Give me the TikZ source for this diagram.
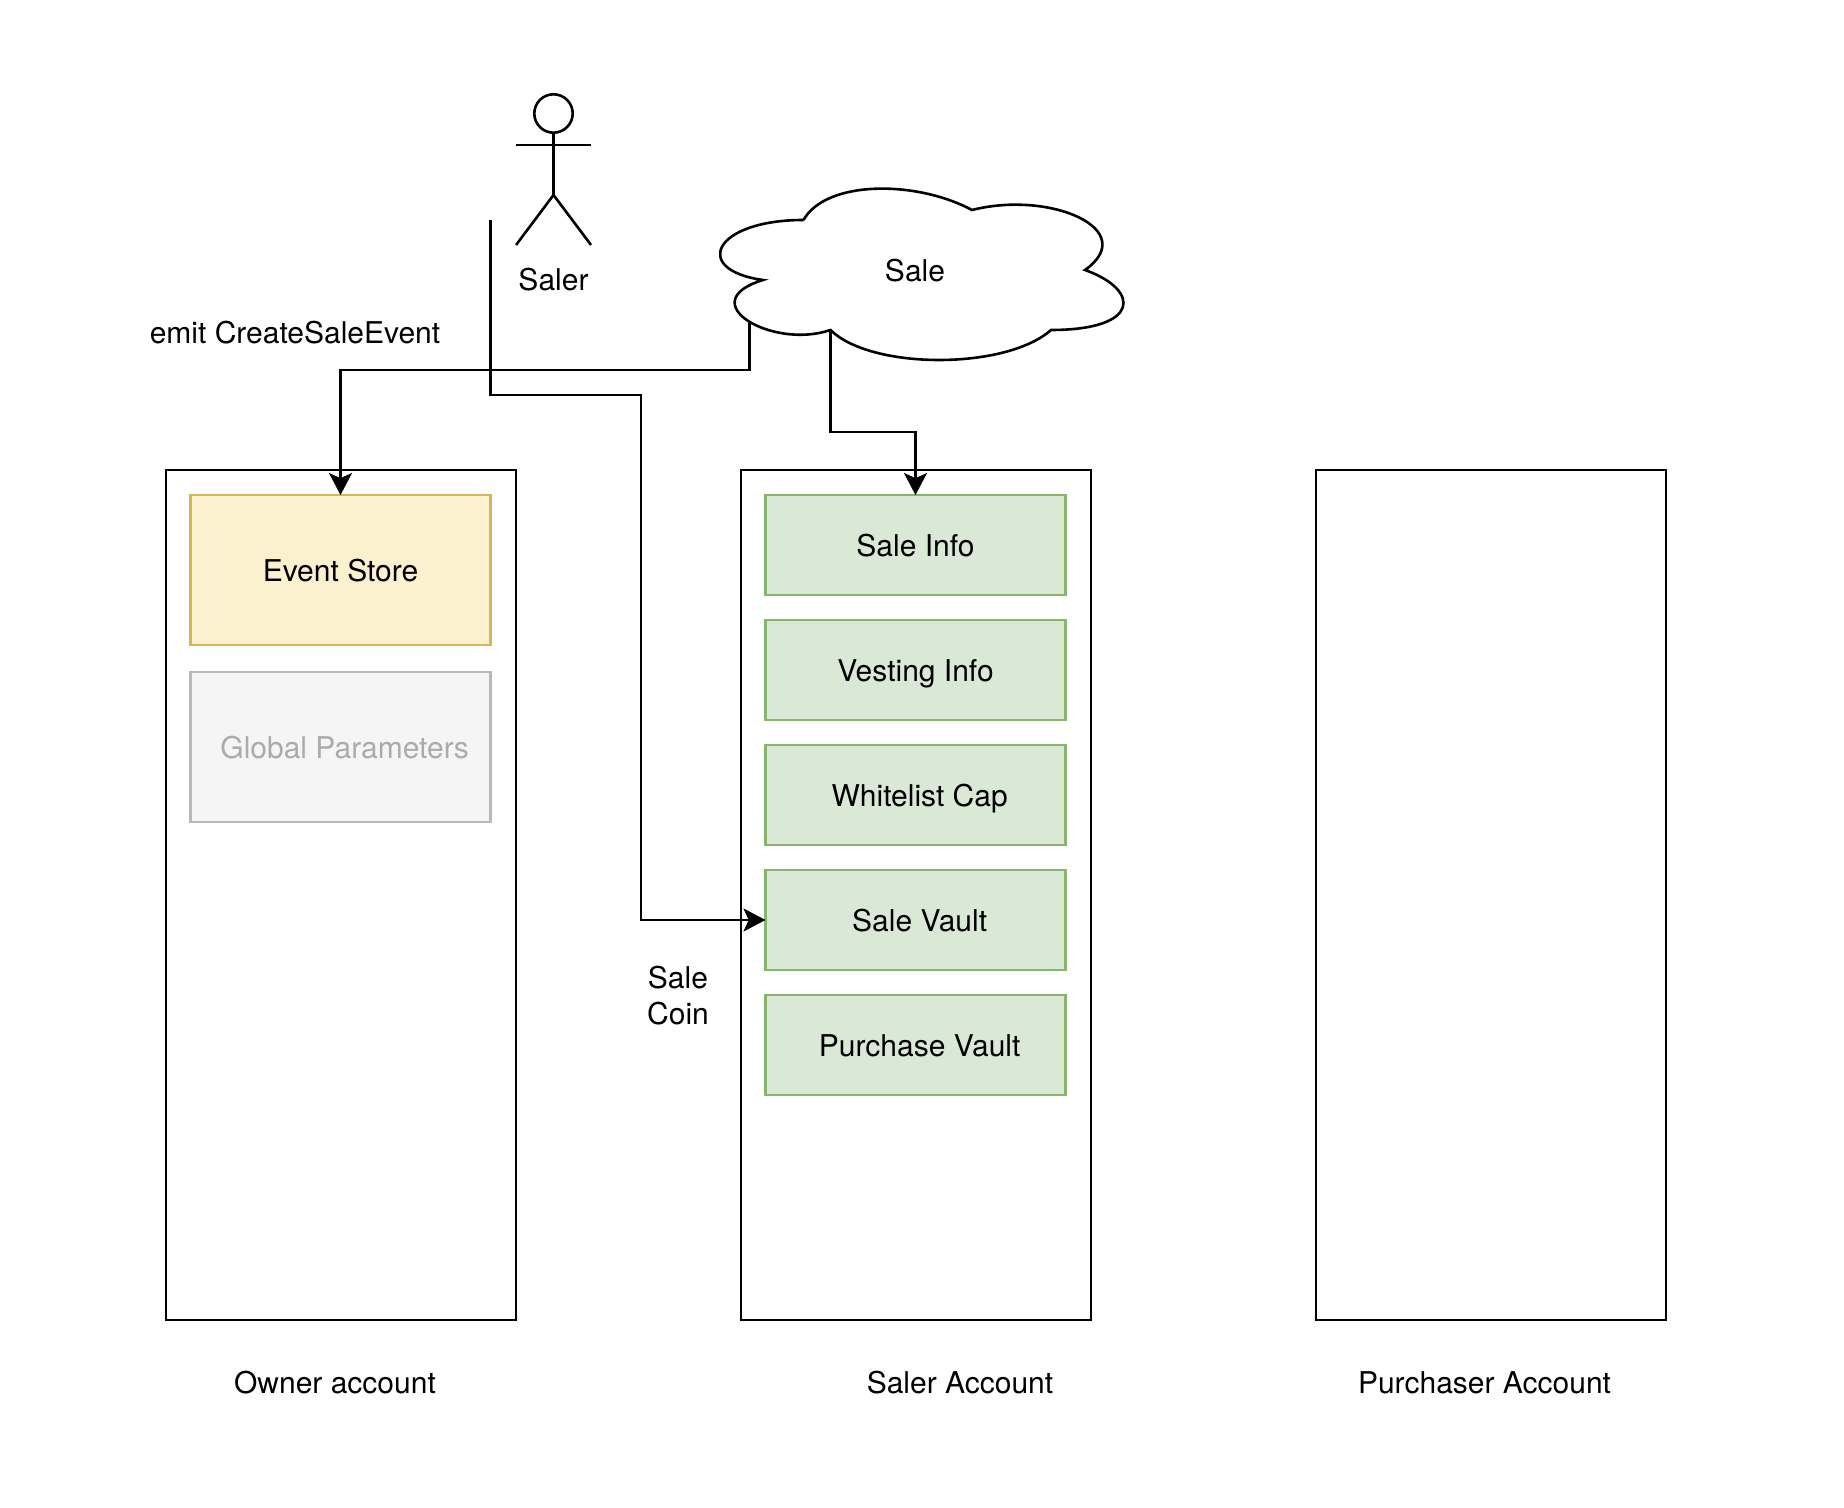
\documentclass[tikz,border=0pt]{standalone}
\usepackage{fontspec}
\setmainfont{TeX Gyre Heros}
\usetikzlibrary{arrows.meta}
\definecolor{ColA}{RGB}{251,241,207}
\definecolor{ColB}{RGB}{214,182,86}
\definecolor{ColC}{RGB}{218,232,214}
\definecolor{ColD}{RGB}{136,181,108}
\definecolor{ColE}{RGB}{245,245,245}
\definecolor{ColF}{RGB}{184,184,184}
\definecolor{ColG}{RGB}{171,171,171}
\tikzstyle{TextNode}=[inner sep=0pt,outer sep=0pt,font=\fontsize{15}{18}\selectfont,
text height=11.1pt,text depth=0pt,align=center]
\tikzstyle{AccountBox}=[draw=black,line width=1.3pt,outer sep=0pt,minimum width=175pt,minimum height=425pt]
\tikzstyle{StoreBox}=[TextNode,line width=1.4pt,minimum width=150pt]
\tikzstyle{EventBox}=[StoreBox,draw=ColB,fill=ColA,minimum height=75pt]
\tikzstyle{ParamBox}=[StoreBox,draw=ColF,fill=ColE,text=ColG,minimum height=75pt]
\tikzstyle{SaleBox}=[StoreBox,draw=ColD,fill=ColC,minimum height=50pt]
\tikzstyle{EdgeLine}=[black,line width=1.3pt]
\tikzstyle{EdgeArrow}=[EdgeLine,-{Stealth[length=11pt,width=11.5pt,inset=2.6pt]}]
\begin{document}
\begin{tikzpicture}[x=.5pt,y=-.5pt]
        \useasboundingbox(0,0)rectangle(1844,1508);
        \node[AccountBox](owner)at(341,895){};
        \node[AccountBox](saler)at(916,895){};
        \node[AccountBox](purchaser)at(1491,895){};
        \node[EventBox](event)at(340.5,570){Event Store};
        \node[ParamBox](param)at(340.5,747){\ Global Parameters};
        \node[SaleBox](info)at(915.5,545){Sale Info};
        \node[SaleBox](vesting)at(915.5,670){Vesting Info};
        \node[SaleBox](white)at(915.5,795){\ Whitelist Cap};
        \node[SaleBox](vault)at(915.5,920){\ Sale Vault};
        \node[SaleBox](purchase)at(915.5,1045){\ Purchase Vault};
        \node[TextNode](ownerlabel)at(335,1382){Owner account};
        \node[TextNode](salerlabel)at(960,1382){Saler Account};
        \node[TextNode](purchaserlabel)at(1484.5,1382){Purchaser Account};
        \node[TextNode](emit)at(295,332){emit CreateSaleEvent};
        \node[TextNode](coin)at(678,1013.5){Sale\\Coin};
        \node[TextNode](actor)at(553.5,279){Saler};
        \draw[EdgeLine](553.5,113.5)circle[radius=19.2];
        \draw[EdgeLine](553.5,132.7)--(553.5,195);
        \draw[EdgeLine](516,145)--(591,145);
        \draw[EdgeLine](516,245)--(553.5,195)--(591,245);
        \draw[EdgeLine,fill=white](803.5,220)
            ..controls(713,220)and(691,270)..(763,280)
            ..controls(691,302)and(772,350)..(830.5,330)
            ..controls(871,370)and(1006,370)..(1051,330)
            ..controls(1141,330)and(1141,290)..(1085,270)
            ..controls(1141,230)and(1051,190)..(972,210)
            ..controls(916,180)and(826,180)..(803.5,220);
        \node[TextNode](cloud)at(915,270){Sale};
        \coordinate(coinstart)at(490.5,220);
        \coordinate(cloudleft)at(749.5,323);
        \coordinate(cloudright)at(830.5,330);
        \draw[EdgeArrow](coinstart)|-(641,395)|-(vault.west);
        \draw[EdgeArrow](cloudleft)|-(event.north|-0,370)--(event.north);
        \draw[EdgeArrow](cloudright)|-(info.north|-0,432)--(info.north);
    \end{tikzpicture}
\end{document}
